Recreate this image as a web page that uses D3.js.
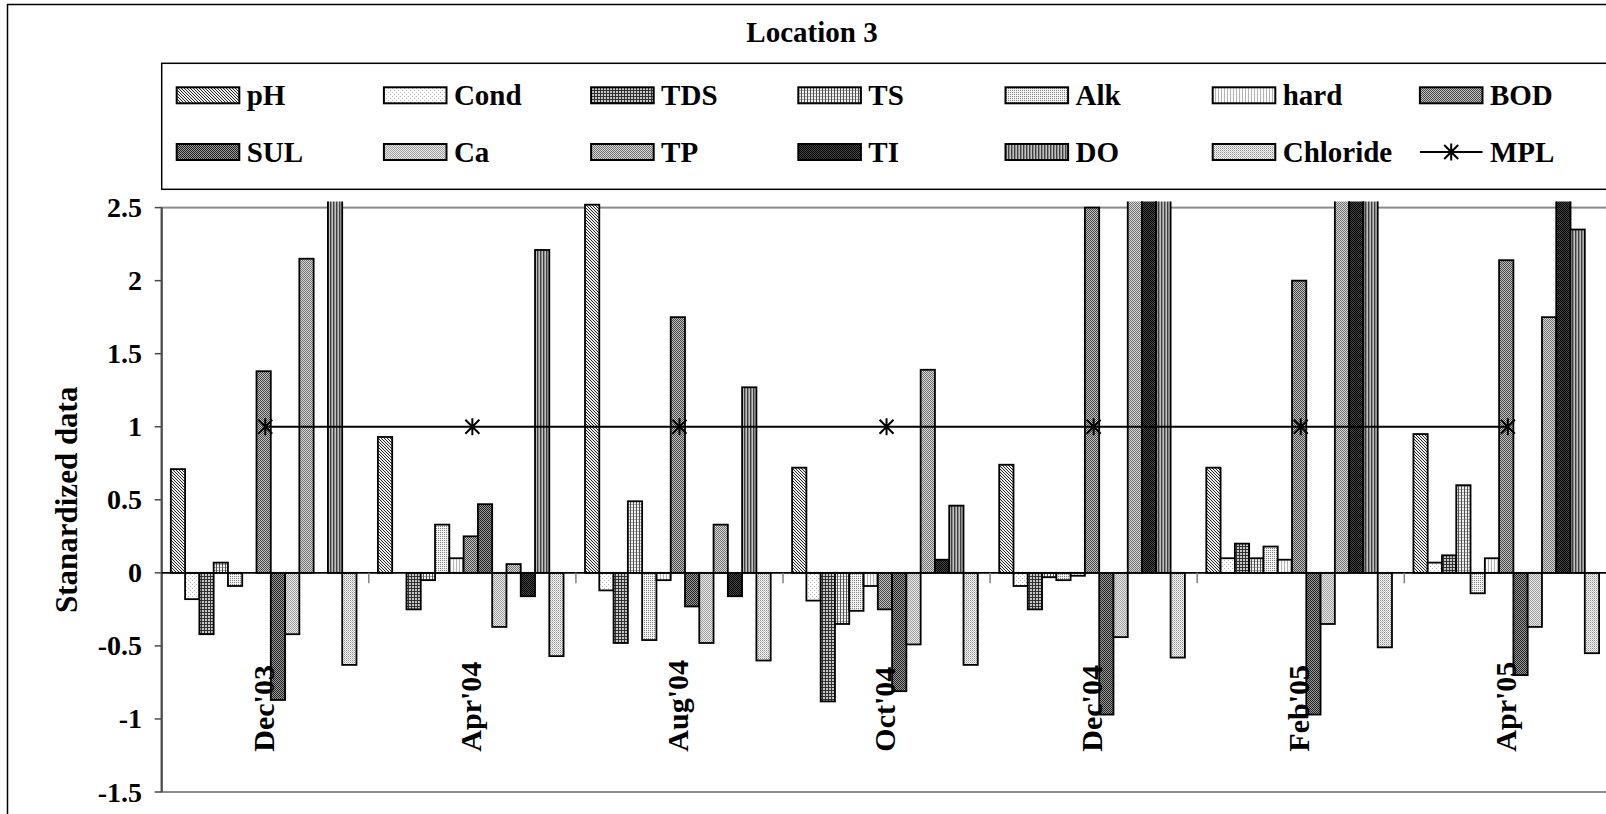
<!DOCTYPE html>
<html>
<head>
<meta charset="utf-8">
<script src="https://cdn.jsdelivr.net/npm/d3@7"></script>
<style>
  html, body { margin: 0; padding: 0; background: #fff; overflow: hidden; }
  svg { display: block; }
  text { font-family: "Liberation Serif", "Times New Roman", serif; font-weight: bold; fill: #000; }
</style>
</head>
<body>
<svg id="chart" width="1606" height="814"></svg>
<script>
// Sampling months (categories)
const months = ["Dec'03", "Apr'04", "Aug'04", "Oct'04", "Dec'04", "Feb'05", "Apr'05"];
// Water-quality parameters (bar series), in legend order
const parameters = ["pH", "Cond", "TDS", "TS", "Alk", "hard", "BOD", "SUL", "Ca", "TP", "TI", "DO", "Chloride"];

// Standardized values per parameter, one per month
const pH       = [0.71, 0.93, 2.52, 0.72, 0.74, 0.72, 0.95];
const Cond     = [-0.18, 0.00, -0.12, -0.19, -0.09, 0.10, 0.07];
const TDS      = [-0.42, -0.25, -0.48, -0.88, -0.25, 0.20, 0.12];
const TS       = [0.07, -0.05, 0.49, -0.35, -0.03, 0.10, 0.60];
const Alk      = [-0.09, 0.33, -0.46, -0.26, -0.05, 0.18, -0.14];
const hard     = [0.00, 0.10, -0.05, -0.09, -0.02, 0.09, 0.10];
const BOD      = [1.38, 0.25, 1.75, -0.25, 2.50, 2.00, 2.14];
const SUL      = [-0.87, 0.47, -0.23, -0.81, -0.97, -0.97, -0.70];
const Ca       = [-0.42, -0.37, -0.48, -0.49, -0.44, -0.35, -0.37];
const TP       = [2.15, 0.06, 0.33, 1.39, 3.10, 3.00, 1.75];
const TI       = [0.00, -0.16, -0.16, 0.09, 3.40, 3.30, 2.70];
const DO       = [2.90, 2.21, 1.27, 0.46, 2.80, 2.90, 2.35];
const Chloride = [-0.63, -0.57, -0.60, -0.63, -0.58, -0.51, -0.55];

// Maximum permissible level
const MPL = [1, 1, 1, 1, 1, 1, 1];

// Value-axis ticks
const yTicks = [-1.5, -1, -0.5, 0, 0.5, 1, 1.5, 2, 2.5];
const yTickLabels = ["-1.5", "-1", "-0.5", "0", "0.5", "1", "1.5", "2", "2.5"];

const seriesValues = { pH, Cond, TDS, TS, Alk, hard, BOD, SUL, Ca, TP, TI, DO, Chloride };

const svg = d3.select("#chart");
const defs = svg.append("defs");

// ---- fill patterns (small pixel tiles) ----
function pixelPattern(id, w, h, bg, cells) {
  const p = defs.append("pattern")
    .attr("id", id).attr("patternUnits", "userSpaceOnUse")
    .attr("width", w).attr("height", h);
  p.append("rect").attr("width", w).attr("height", h).attr("fill", bg);
  cells.forEach(([cx, cy, cw, ch, col]) => {
    p.append("rect").attr("x", cx).attr("y", cy).attr("width", cw).attr("height", ch)
      .attr("fill", col).attr("shape-rendering", "crispEdges");
  });
}
pixelPattern("pat-pH", 3, 3, "#f0f0f0", [[0,0,1,1,"#222"],[1,1,1,1,"#222"],[2,2,1,1,"#222"]]);
pixelPattern("pat-Cond", 4, 4, "#ffffff", [[0,0,1,1,"#b8b8b8"],[2,2,1,1,"#b8b8b8"]]);
pixelPattern("pat-TDS", 3, 3, "#c8c8c8", [[0,0,3,1,"#303030"],[0,0,1,3,"#303030"]]);
pixelPattern("pat-TS", 3, 3, "#f2f2f2", [[0,0,1,3,"#505050"],[1,0,2,1,"#a8a8a8"]]);
pixelPattern("pat-Alk", 2, 2, "#f4f4f4", [[0,0,1,1,"#808080"]]);
pixelPattern("pat-hard", 3, 2, "#fafafa", [[0,0,1,2,"#b4b4b4"]]);
pixelPattern("pat-BOD", 2, 2, "#c4c4c4", [[0,0,1,1,"#444444"],[1,1,1,1,"#444444"]]);
pixelPattern("pat-SUL", 2, 2, "#9a9a9a", [[0,0,1,1,"#202020"],[1,1,1,1,"#202020"]]);
pixelPattern("pat-Ca", 2, 2, "#e8e8e8", [[0,0,1,1,"#a0a0a0"],[1,1,1,1,"#a0a0a0"]]);
pixelPattern("pat-TP", 2, 2, "#d8d8d8", [[0,0,1,1,"#707070"],[1,1,1,1,"#707070"]]);
pixelPattern("pat-TI", 2, 2, "#444444", [[0,0,1,1,"#000"],[1,1,1,1,"#000"]]);
pixelPattern("pat-DO", 3, 1, "#c0c0c0", [[0,0,1,1,"#404040"],[1,0,1,1,"#8c8c8c"]]);
pixelPattern("pat-Chloride", 2, 2, "#f4f4f4", [[0,0,1,1,"#909090"],[1,1,1,1,"#c4c4c4"]]);

// ---- layout ----
const plot = { left: 161.7, top: 207.6, bottom: 792, catWidth: 207.1 };
plot.right = plot.left + months.length * plot.catWidth;

const x = d3.scaleBand().domain(months).range([plot.left, plot.right]).padding(0);
const xs = d3.scaleBand().domain(parameters).range([0, x.bandwidth()])
  .paddingInner(0).paddingOuter(0.75);
const barShift = -1.6;
const y = d3.scaleLinear().domain([-1.5, 2.5]).range([plot.bottom, plot.top]);

// outer chart border
svg.append("rect").attr("x", 7.5).attr("y", 4.5).attr("width", 1640).attr("height", 840)
  .attr("fill", "none").attr("stroke", "#000").attr("stroke-width", 1.5);

// title
svg.append("text").attr("x", 812).attr("y", 42).attr("text-anchor", "middle")
  .style("font-size", "29px").text("Location 3");

// plot area border (gray)
svg.append("rect").attr("x", plot.left).attr("y", plot.top)
  .attr("width", plot.right - plot.left).attr("height", plot.bottom - plot.top)
  .attr("fill", "none").attr("stroke", "#8a8a8a").attr("stroke-width", 2);

// clip for bars overshooting the value-axis maximum
defs.append("clipPath").attr("id", "plot-clip").append("rect")
  .attr("x", plot.left).attr("y", plot.top - 6)
  .attr("width", plot.right - plot.left + 20).attr("height", plot.bottom - plot.top + 6);

// bars
const barsG = svg.append("g").attr("clip-path", "url(#plot-clip)");
parameters.forEach(p => {
  const vals = seriesValues[p];
  barsG.append("g").selectAll("rect")
    .data(months.map((m, i) => ({ m, v: vals[i] })).filter(d => Math.abs(d.v) > 0.004))
    .join("rect")
    .attr("x", d => x(d.m) + xs(p) + barShift)
    .attr("width", xs.bandwidth())
    .attr("y", d => Math.min(y(d.v), y(0)))
    .attr("height", d => Math.abs(y(d.v) - y(0)))
    .attr("fill", `url(#pat-${p})`)
    .attr("stroke", "#000").attr("stroke-width", 1.8);
});

// value axis
const yAxis = svg.append("g");
yAxis.append("line").attr("x1", plot.left).attr("x2", plot.left)
  .attr("y1", plot.top).attr("y2", plot.bottom)
  .attr("stroke", "#4a4a4a").attr("stroke-width", 2);
yAxis.selectAll("line.tick").data(yTicks).join("line").attr("class", "tick")
  .attr("x1", plot.left - 7).attr("x2", plot.left)
  .attr("y1", d => y(d)).attr("y2", d => y(d))
  .attr("stroke", "#4a4a4a").attr("stroke-width", 1.5);
yAxis.selectAll("text").data(yTicks).join("text")
  .attr("x", 142).attr("y", d => y(d)).attr("dy", "0.34em")
  .attr("text-anchor", "end").style("font-size", "28px")
  .text((d, i) => yTickLabels[i]);

// value-axis title
svg.append("text")
  .attr("transform", `translate(77,${(plot.top + plot.bottom) / 2}) rotate(-90)`)
  .attr("text-anchor", "middle").style("font-size", "31px")
  .text("Stanardized data");

// category axis at zero with boundary ticks
svg.append("line").attr("x1", plot.left).attr("x2", plot.right)
  .attr("y1", y(0)).attr("y2", y(0)).attr("stroke", "#000").attr("stroke-width", 1.6);
svg.append("g").selectAll("line")
  .data(d3.range(1, months.length + 1))
  .join("line")
  .attr("x1", k => plot.left + k * x.step())
  .attr("x2", k => plot.left + k * x.step())
  .attr("y1", y(0)).attr("y2", y(0) + 10.5)
  .attr("stroke", "#808080").attr("stroke-width", 1.5);

// category labels, rotated
svg.append("g").selectAll("text").data(months).join("text")
  .attr("transform", d => `translate(${x(d) + x.bandwidth() / 2 + 8.5},751.7) rotate(-90)`)
  .attr("text-anchor", "start").style("font-size", "30px")
  .text(d => d);

// MPL line with star markers
const starPath = "M-7,-7L7,7M-7,7L7,-7M0,-8.5V8.5";
const mplPts = months.map((m, i) => [x(m) + x.bandwidth() / 2, y(MPL[i])]);
svg.append("path").attr("d", d3.line()(mplPts))
  .attr("fill", "none").attr("stroke", "#000").attr("stroke-width", 2);
svg.append("g").selectAll("path").data(mplPts).join("path")
  .attr("transform", d => `translate(${d[0]},${d[1]})`)
  .attr("d", starPath).attr("fill", "none").attr("stroke", "#000").attr("stroke-width", 2);

// legend
const lg = svg.append("g");
lg.append("rect").attr("x", plot.left).attr("y", 63.3).attr("width", 1606).attr("height", 126)
  .attr("fill", "#fff").attr("stroke", "#000").attr("stroke-width", 1.5);
const legendItems = parameters.concat(["MPL"]);
const colX = i => 176.7 + i * 207.2;
const rowY = [87.3, 144];
const swW = 62.6, swH = 16;
legendItems.forEach((name, idx) => {
  const cx = colX(idx % 7), cy = rowY[Math.floor(idx / 7)];
  if (name === "MPL") {
    lg.append("line").attr("x1", cx).attr("x2", cx + swW)
      .attr("y1", cy + swH / 2).attr("y2", cy + swH / 2)
      .attr("stroke", "#000").attr("stroke-width", 2);
    lg.append("path").attr("transform", `translate(${cx + swW / 2},${cy + swH / 2})`)
      .attr("d", starPath).attr("fill", "none").attr("stroke", "#000").attr("stroke-width", 2);
  } else {
    lg.append("rect").attr("x", cx).attr("y", cy).attr("width", swW).attr("height", swH)
      .attr("fill", `url(#pat-${name})`).attr("stroke", "#000").attr("stroke-width", 2);
  }
  lg.append("text").attr("x", cx + 70).attr("y", cy + swH / 2 + 9.6)
    .style("font-size", "29px").text(name);
});
</script>
</body>
</html>
